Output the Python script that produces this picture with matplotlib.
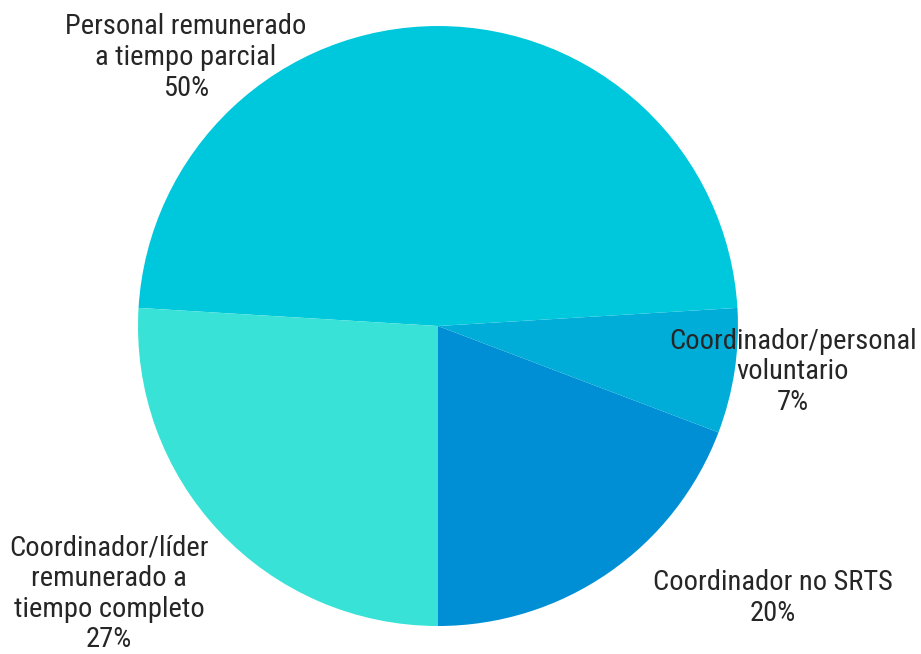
import matplotlib
matplotlib.use("Agg")
import matplotlib.pyplot as plt

# slices, counter-clockwise from 6 o'clock
labels = ["Coordinador no SRTS", "Coordinador/personal\nvoluntario",
          "Personal remunerado\na tiempo parcial", "Coordinador/líder\nremunerado a\ntiempo completo"]
values = [20, 7, 50, 27]
colors = ["#008FD5", "#00ACD8", "#00C8DC", "#38E2D6"]

plt.rcParams['font.family'] = ['Roboto Condensed', 'Liberation Sans Narrow', 'DejaVu Sans']

fig = plt.figure(figsize=(9.21, 6.54), dpi=100)
ax = fig.add_axes([0.1498, 0.0428, 0.6515, 0.9174])
ax.pie(values, colors=colors, startangle=-90, counterclock=True,
       wedgeprops=dict(linewidth=0))
ax.set_xlim(-1, 1)
ax.set_ylim(-1, 1)
ax.set_aspect('equal')
ax.axis('off')

# label positions (data coords)
label_pos = [(1.117, -0.907), (1.183, -0.153), (-0.84, 0.895), (-1.097, -0.893)]
for lab, v, (x, y) in zip(labels, values, label_pos):
    ax.text(x, y, f"{lab}\n{v}%", ha='center', va='center', fontsize=20.5,
            color='#262626', linespacing=1.17, clip_on=False)

fig.savefig("out.png", dpi=100)
